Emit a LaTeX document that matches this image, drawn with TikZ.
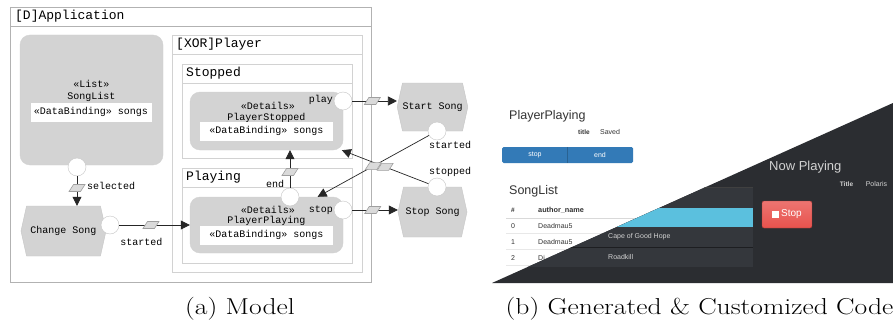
\documentclass[tikz,border=0pt]{standalone}
\usepackage{graphicx}
\usepackage{fontspec}
\setmonofont{Liberation Mono}
\newfontfamily\uifont{Liberation Sans}
\usetikzlibrary{shapes.geometric,shapes.symbols,arrows.meta,positioning,calc}

\definecolor{stategray}{HTML}{D3D3D3}
\definecolor{flowgray}{HTML}{DADADA}
\definecolor{btnblue}{HTML}{337AB7}
\definecolor{darkbg}{HTML}{2B2D31}
\definecolor{darkpanel}{HTML}{34373C}
\definecolor{rowblue}{HTML}{5BC0DE}
\definecolor{stopred}{HTML}{E8524D}
\definecolor{uitext}{HTML}{333333}

% small slanted event box on a flow
\newcommand\eventmark[1]{%
  \filldraw[draw=gray!75, fill=flowgray, line width=0.6pt]
    ($(#1)+(-8,3.5)$) -- ($(#1)+(3.5,3.5)$) -- ($(#1)+(8,-3.5)$) -- ($(#1)+(-3.5,-3.5)$) -- cycle;}

\begin{document}
\begin{tikzpicture}[
    x=1pt, y=-1pt,
    font=\ttfamily\fontsize{10}{12}\selectfont,
    frame/.style={draw=gray!60, line width=0.7pt},
    subframe/.style={draw=gray!35, line width=0.7pt},
    boxtitle/.style={anchor=west, inner sep=0pt, font=\ttfamily\fontsize{13}{15}\selectfont},
    state/.style={draw=gray!35, fill=stategray, rounded corners=10pt, inner sep=0pt},
    binding/.style={fill=white, minimum height=19pt, inner sep=0pt},
    action/.style={signal, signal to=east and west, signal pointer angle=155, draw=gray!45, fill=stategray, inner sep=0pt},
    port/.style={circle, draw=gray!45, fill=white, minimum size=18pt, inner sep=0pt},
    arrow/.style={-{Triangle[length=9pt, width=9pt]}, line width=0.7pt, draw=black!85},
    lbl/.style={inner sep=0pt},
    ui/.style={inner sep=0pt, text=uitext, font=\uifont\fontsize{7}{8}\selectfont},
    caption/.style={inner sep=0pt, font=\rmfamily\fontsize{23}{27}\selectfont}
]
\useasboundingbox[fill=white] (0,0) rectangle (893,321);

% model: containers
\draw[frame] (10,7) rectangle (371,282);
\draw[frame] (10,26) -- (371,26);
\node[boxtitle] (apptitle) at (15,16.5) {[D]Application};
\draw[subframe] (172,35) rectangle (362,272);
\draw[subframe] (172,54) -- (362,54);
\node[boxtitle] (playertitle) at (176,44.5) {[XOR]Player};
\draw[subframe] (182,64) rectangle (352,158);
\draw[subframe] (182,83) -- (352,83);
\node[boxtitle] (stoppedtitle) at (186,73.5) {Stopped};
\draw[subframe] (182,168) rectangle (352,263);
\draw[subframe] (182,187) -- (352,187);
\node[boxtitle] (playingtitle) at (186,177.5) {Playing};

% model: states
\node[state, minimum width=143pt, minimum height=130pt] (songlist) at (91.5,100) {};
\node (songlist-st) at (91.5,84) {«List»};
\node (songlist-nm) at (91.5,97) {SongList};
\node[binding, minimum width=121pt] (songlist-db) at (91,112) {«DataBinding» songs};

\node[state, minimum width=153pt, minimum height=58pt] (pstop) at (266.5,121) {};
\node (pstop-st) at (268,106) {«Details»};
\node (pstop-nm) at (266.5,118) {PlayerStopped};
\node[binding, minimum width=133pt] (pstop-db) at (266.5,131) {«DataBinding» songs};

\node[state, minimum width=153pt, minimum height=56pt] (pplay) at (266.5,225) {};
\node (pplay-st) at (268,210) {«Details»};
\node (pplay-nm) at (266.5,221) {PlayerPlaying};
\node[binding, minimum width=133pt] (pplay-db) at (266.5,235) {«DataBinding» songs};

% model: actions
\node[action, minimum width=85pt, minimum height=50pt] (chsong) at (63.5,231) {Change Song};
\node[action, minimum width=69pt, minimum height=48pt] (startsong) at (432.5,107) {Start Song};
\node[action, minimum width=69pt, minimum height=50pt] (stopsong) at (432.5,212) {Stop Song};

% model: ports
\node[port] (selc) at (77,167) {};
\node[port] (chc) at (110,225) {};
\node[port] (playc) at (343,101) {};
\node[port] (stopc) at (343,210) {};
\node[port] (endc) at (290,197) {};
\node[port] (startedc) at (437,131) {};
\node[port] (stoppedc) at (437,187) {};

% model: flows
\draw[arrow] (selc) -- coordinate[pos=.4] (selev) (selc |- chsong.north);
\draw[arrow] (chc) -- coordinate[pos=.45] (startev) (chc -| pplay.west);
\draw[arrow] (playc) -- coordinate[pos=.45] (playev) (playc -| startsong.west);
\draw[arrow] (stopc) -- coordinate[pos=.45] (stopev) (stopc -| stopsong.west);
\draw[arrow] (endc) -- coordinate[pos=.42] (endev) (endc |- pstop.south);
\draw[arrow] (startedc) -- coordinate[pos=.5] (startedev) (pplay);
\draw[arrow] (stoppedc) -- coordinate[pos=.5] (stoppedev) (pstop);
\foreach \e in {selev, startev, playev, stopev, endev, startedev, stoppedev}
  {\eventmark{\e}}

% model: labels
\node[lbl, anchor=west] (lblsel) at (87,185.5) {selected};
\node[lbl] (lblstart) at (141.5,242) {started};
\node[lbl, anchor=east] (lblplay) at (333,100) {play};
\node[lbl, anchor=east] (lblstop) at (333,210) {stop};
\node[lbl] (lblend) at (275,183.5) {end};
\node[lbl] (lblstarted) at (450,145) {started};
\node[lbl] (lblstopped) at (450,172) {stopped};

% generated code: light theme
\node[ui, anchor=west, font=\uifont\fontsize{12.5}{14}\selectfont] (lplayer) at (509,116) {PlayerPlaying};
\node[ui, font=\uifont\bfseries\fontsize{6.5}{8}\selectfont] (ltitle) at (584,132) {title};
\node[ui] (lsaved) at (610,132) {Saved};
\fill[btnblue, rounded corners=1.5pt] (502,147) rectangle (633,163);
\draw[btnblue!80!black] (567,147) -- (567,163);
\node[ui, text=white] (lbtnstop) at (535,155) {stop};
\node[ui, text=white] (lbtnend) at (600,155) {end};
\node[ui, anchor=west, font=\uifont\fontsize{12.5}{14}\selectfont] (lsonglist) at (509,191) {SongList};
\node[ui, font=\uifont\bfseries\fontsize{6.5}{8}\selectfont] (lhash) at (513,210) {\#};
\node[ui, anchor=west, font=\uifont\bfseries\fontsize{7.3}{8}\selectfont] (lauthor) at (538,210) {author\_name};
\draw[gray!30, line width=1pt] (506,218) -- (760,218);
\foreach \y in {233.5,249.5,265.5}
  \draw[gray!18] (506,\y) -- (760,\y);
\foreach \n/\y/\t in {0/226/Deadmau5, 1/242/Deadmau5, 2/258/Di}
{
  \node[ui] (lrow\n) at (513,\y) {\n};
  \node[ui, anchor=west] (lname\n) at (538,\y) {\t};
}

% generated code: dark theme
\fill[darkbg] (492,283) -- (893,103) -- (893,283) -- cycle;
\begin{scope}
\clip (492,283) -- (893,103) -- (893,283) -- cycle;
\fill[darkpanel] (480,187) rectangle (753,267);
\draw[black!75, line width=1pt] (480,187) -- (753,187);
\fill[rowblue] (480,208) rectangle (753,227);
\draw[black!45!darkpanel, line width=0.8pt] (480,247) -- (753,247);
\node[ui, anchor=west, text=gray!35] (dcape) at (608,237) {Cape of Good Hope};
\node[ui, anchor=west, text=gray!35] (droad) at (608,257) {Roadkill};
\node[ui, anchor=west, text=gray!35, font=\uifont\fontsize{13}{15}\selectfont] (dnow) at (769,167) {Now Playing};
\node[ui, text=gray!35, font=\uifont\bfseries\fontsize{6.5}{8}\selectfont] (dtitle) at (846.5,184) {Title};
\node[ui, text=gray!35] (dpolaris) at (876.5,184) {Polaris};
\shade[top color=stopred!80!white, bottom color=stopred, rounded corners=2pt] (762,201) rectangle (812,228);
\draw[stopred!70!black, rounded corners=2pt] (762,201) rectangle (812,228);
\fill[white] (772,211) rectangle (779,218);
\node[ui, anchor=west, text=white, font=\uifont\fontsize{10}{12}\selectfont] (dstop) at (781,214.5) {Stop};
\end{scope}

% captions
\node[caption] (capa) at (240,309) {\scalebox{1.2}[1]{(a) Model}};
\node[caption] (capb) at (699.5,309) {\scalebox{1.2}[1]{(b) Generated \& Customized Code}};
\end{tikzpicture}
\end{document}
